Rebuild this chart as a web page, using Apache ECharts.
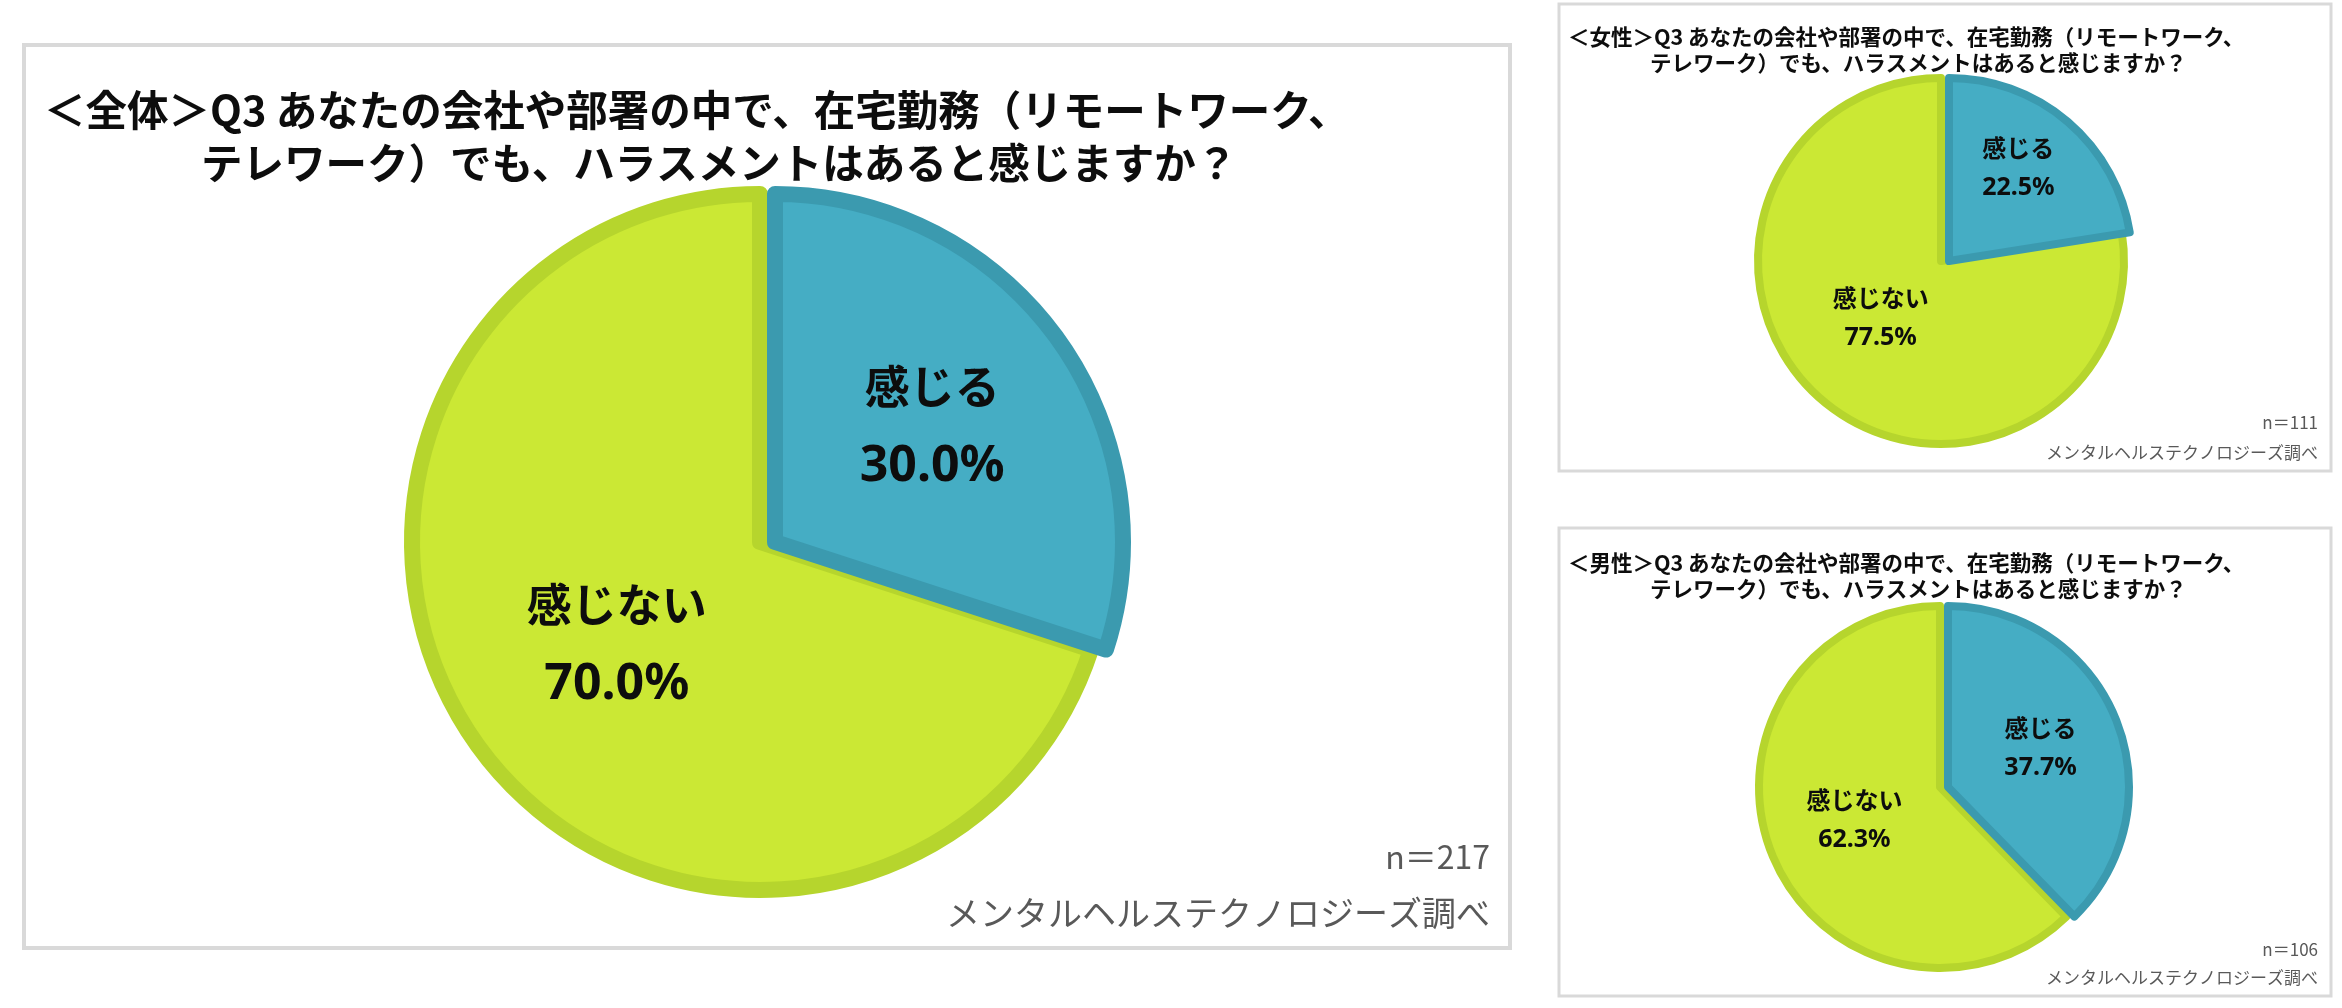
<!DOCTYPE html>
<html>
<head>
<meta charset="utf-8">
<script src="https://cdn.jsdelivr.net/npm/echarts@6/dist/echarts.min.js"></script>
<style>
html,body{margin:0;padding:0;background:#fff;}
#c{width:2342px;height:1008px;}
</style>
</head>
<body>
<div id="c"></div>
<script>
// ---- data ----
const categories = ['感じる', '感じない'];
const overallValues = [30.0, 70.0];
const femaleValues = [22.5, 77.5];
const maleValues = [37.7, 62.3];
const sampleSizes = { overall: 217, female: 111, male: 106 };
const titleLine1Overall = '＜全体＞Q3 あなたの会社や部署の中で、在宅勤務（リモートワーク、';
const titleLine1Female = '＜女性＞Q3 あなたの会社や部署の中で、在宅勤務（リモートワーク、';
const titleLine1Male = '＜男性＞Q3 あなたの会社や部署の中で、在宅勤務（リモートワーク、';
const titleLine2 = 'テレワーク）でも、ハラスメントはあると感じますか？';
const sourceText = 'メンタルヘルステクノロジーズ調べ';

// ---- styles ----
const fills = ['#45ADC4', '#CBE834'];
const borders = ['#3B9AAF', '#B6D52D'];
const JP = '"Noto Sans CJK JP", "Noto Sans", sans-serif';
const NUM = '"Noto Sans", "Noto Sans CJK JP", sans-serif';

// One series draws one visible slice (the other slice is a transparent placeholder
// so that angles stay correct); the "感じる" slice is drawn slightly shifted like the source.
function pieSeries(values, visibleIdx, center, radius, bw, fonts, shift) {
  const data = categories.map((name, i) => {
    if (i === visibleIdx) {
      const st = { color: fills[i], borderColor: borders[i], borderWidth: bw };
      return { name: name, value: values[i], itemStyle: st };
    }
    return {
      name: name, value: values[i],
      itemStyle: { color: 'rgba(0,0,0,0)', borderWidth: 0 },
      label: { show: false }
    };
  });
  return {
    type: 'pie',
    silent: true,
    animation: false,
    center: center,
    radius: radius,
    startAngle: 90,
    clockwise: true,
    avoidLabelOverlap: false,
    emphasis: { disabled: true },
    label: {
      show: true,
      position: 'inside',
      formatter: p => '{n|' + p.name + '}\n{v|' + p.value.toFixed(1) + '%}',
      rich: {
        n: { fontFamily: JP, fontWeight: 'bold', fontSize: fonts[0], color: '#0D0D0D', lineHeight: fonts[2], align: 'center' },
        v: { fontFamily: NUM, fontWeight: 'bold', fontSize: fonts[1], color: '#0D0D0D', lineHeight: fonts[3], align: 'center' }
      }
    },
    labelLayout: { dx: shift[0], dy: shift[1] },
    labelLine: { show: false },
    data: data
  };
}

function txt(x, y, text, size, opts) {
  opts = opts || {};
  return {
    type: 'text',
    x: x, y: y,
    silent: true,
    style: {
      text: text,
      font: (opts.weight || 'bold') + ' ' + size + 'px ' + JP,
      fill: opts.fill || '#0D0D0D',
      align: opts.align || 'left',
      verticalAlign: 'middle'
    }
  };
}

function panel(x, y, w, h, lw) {
  return {
    type: 'rect', silent: true, z: -10,
    shape: { x: x, y: y, width: w, height: h },
    style: { fill: '#fff', stroke: '#D9D9D9', lineWidth: lw }
  };
}

const bigFonts = [45, 50, 74, 86];
const smallFonts = [24, 25, 38, 42];

const chart = echarts.init(document.getElementById('c'));
chart.setOption({
  backgroundColor: '#ffffff',
  animation: false,
  series: [
    // overall
    pieSeries(overallValues, 1, [760, 542], 348, 16, bigFonts, [0, 2]),
    pieSeries(overallValues, 0, [775, 542], 348, 16, bigFonts, [14, -8]),
    // female
    pieSeries(femaleValues, 1, [1941, 261], 183, 8, smallFonts, [1, -14]),
    pieSeries(femaleValues, 0, [1949, 261], 183, 8, smallFonts, [8, -20]),
    // male
    pieSeries(maleValues, 1, [1940, 787], 181, 8, smallFonts, [1, -1]),
    pieSeries(maleValues, 0, [1948, 787], 181, 8, smallFonts, [6, -3])
  ],
  graphic: [
    panel(24, 45, 1486, 903, 4),
    panel(1559, 4, 772, 467, 3),
    panel(1559, 528, 772, 468, 3),
    // main title
    txt(44, 110, titleLine1Overall, 41.5),
    txt(201, 163, titleLine2, 41.5),
    // female title
    txt(1568, 37, titleLine1Female, 21.5),
    txt(1650, 63, titleLine2, 21.5),
    // male title
    txt(1568, 563, titleLine1Male, 21.5),
    txt(1650, 589, titleLine2, 21.5),
    // footnotes
    txt(1490, 857, 'n＝' + sampleSizes.overall, 32, { weight: 'normal', fill: '#595959', align: 'right' }),
    txt(1490, 913, sourceText, 34, { weight: 'normal', fill: '#595959', align: 'right' }),
    txt(2318, 423, 'n＝' + sampleSizes.female, 17, { weight: 'normal', fill: '#595959', align: 'right' }),
    txt(2318, 453, sourceText, 17, { weight: 'normal', fill: '#595959', align: 'right' }),
    txt(2318, 950, 'n＝' + sampleSizes.male, 17, { weight: 'normal', fill: '#595959', align: 'right' }),
    txt(2318, 978, sourceText, 17, { weight: 'normal', fill: '#595959', align: 'right' })
  ]
});
</script>
</body>
</html>
